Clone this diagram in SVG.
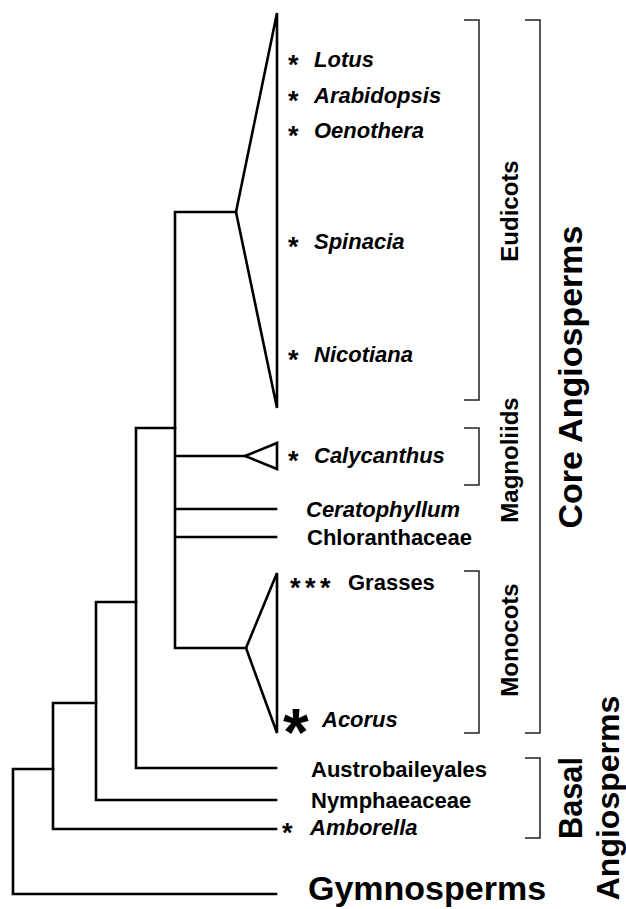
<svg xmlns="http://www.w3.org/2000/svg" width="626" height="909" viewBox="0 0 626 909">
<style>
.tree{fill:none;stroke:#000;stroke-width:2.6;stroke-linecap:square;stroke-linejoin:miter}
.br{fill:none;stroke:#222;stroke-width:1.5}
.t{font-family:"Liberation Sans",Arial,sans-serif;font-weight:bold;font-size:22px;fill:#000}
.i{font-style:italic}
.ast{font-family:"Liberation Sans",Arial,sans-serif;font-weight:bold;font-size:27px;fill:#000}
.grp{font-family:"Liberation Sans",Arial,sans-serif;font-weight:bold;font-size:24px;fill:#000}
.big{font-family:"Liberation Sans",Arial,sans-serif;font-weight:bold;font-size:34px;fill:#000}
</style>
<rect width="626" height="909" fill="#fff"/>
<g id="connectors">
<path class="tree" d="M13,769 V894 H276 M13,769 H53"/>
<path class="tree" d="M53,703 V829 H276 M53,703 H96"/>
<path class="tree" d="M96,602 V800 H276 M96,602 H136"/>
<path class="tree" d="M136,428 V768 H276 M136,428 H175"/>
<path class="tree" d="M175,212 V648 M175,212 H236 M175,456 H245 M175,509 H276 M175,537 H276 M175,648 H246"/>
</g>
<g id="eudicots">
<polygon class="tree" points="236,212 277,13 277,408"/>
<text class="ast" x="288" y="74">*</text><text class="t i" x="314" y="67">Lotus</text>
<text class="ast" x="288" y="110">*</text><text class="t i" x="314" y="103">Arabidopsis</text>
<text class="ast" x="288" y="145">*</text><text class="t i" x="314" y="138">Oenothera</text>
<text class="ast" x="288" y="256">*</text><text class="t i" x="314" y="249">Spinacia</text>
<text class="ast" x="288" y="369">*</text><text class="t i" x="314" y="362">Nicotiana</text>
</g>
<g id="calycanthus">
<polygon class="tree" points="245,456 277,443 277,469"/>
<text class="ast" x="288" y="470">*</text><text class="t i" x="314" y="463">Calycanthus</text>
</g>
<g id="ceratophyllum"><text class="t i" x="306" y="517">Ceratophyllum</text></g>
<g id="chloranthaceae"><text class="t" x="307" y="545">Chloranthaceae</text></g>
<g id="monocots">
<polygon class="tree" points="246,648 277,573 277,733"/>
<text class="ast" x="290" y="597">*</text><text class="ast" x="305" y="597">*</text><text class="ast" x="320" y="597">*</text>
<text class="t" x="348" y="590">Grasses</text>
<text font-family="Liberation Sans, Arial, sans-serif" font-weight="bold" font-size="66" x="283" y="755">*</text>
<text class="t i" x="322" y="727">Acorus</text>
</g>
<g id="austrobaileyales"><text class="t" x="311" y="777">Austrobaileyales</text></g>
<g id="nymphaeaceae"><text class="t" x="311" y="808">Nymphaeaceae</text></g>
<g id="amborella"><text class="ast" x="282" y="842">*</text><text class="t i" x="310" y="835">Amborella</text></g>
<g id="gymnosperms"><text class="big" x="308" y="900">Gymnosperms</text></g>
<g id="brackets">
<path class="br" d="M464,20 H479 V400 H464"/>
<path class="br" d="M464,428 H479 V485 H464"/>
<path class="br" d="M464,571 H479 V733 H464"/>
<path class="br" d="M525,20 H540 V733 H525"/>
<path class="br" d="M525,758 H540 V838 H525"/>
</g>
<g id="labels">
<text class="grp" text-anchor="middle" transform="translate(518,211) rotate(-90)">Eudicots</text>
<text class="grp" text-anchor="middle" transform="translate(518,460) rotate(-90)">Magnoliids</text>
<text class="grp" text-anchor="middle" transform="translate(518,640) rotate(-90)">Monocots</text>
<text class="big" text-anchor="middle" transform="translate(582,377) rotate(-90)">Core Angiosperms</text>
<text class="big" text-anchor="middle" textLength="82" lengthAdjust="spacingAndGlyphs" transform="translate(582,798) rotate(-90)">Basal</text>
<text class="big" text-anchor="middle" font-size="32" style="font-size:32px" transform="translate(619,798) rotate(-90)">Angiosperms</text>
</g>
</svg>
